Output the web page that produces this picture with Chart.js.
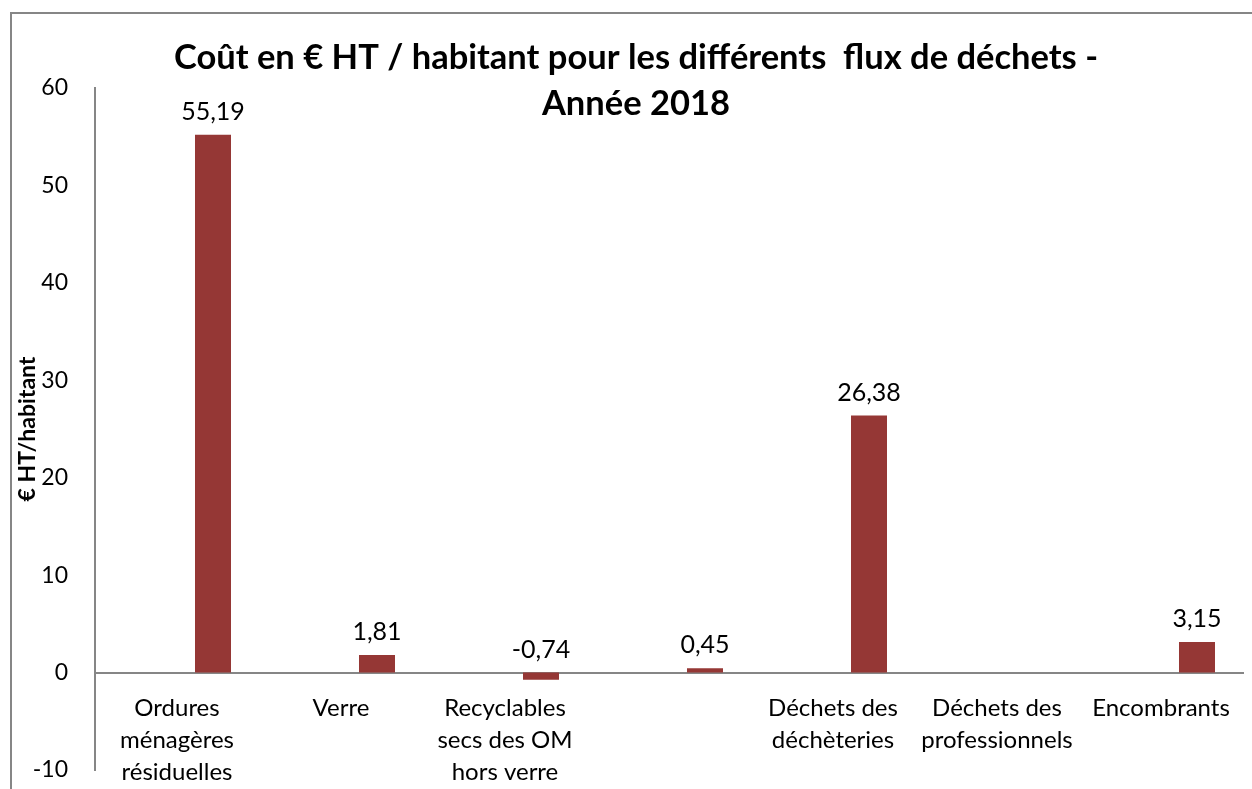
<!DOCTYPE html>
<html lang="fr">
<head>
<meta charset="utf-8">
<title>Coût en € HT / habitant</title>
<script src="https://cdn.jsdelivr.net/npm/chart.js@4/dist/chart.umd.min.js"></script>
<style>
    body { margin: 0; background: #ffffff; }
    #cadre { width: 1252px; height: 789px; }
</style>
</head>
<body>
<div id="cadre">
    <canvas id="graficoCout" width="1252" height="789"></canvas>
</div>
<script>
const categories = [
    ["Ordures", "ménagères", "résiduelles"],
    "Verre",
    ["Recyclables", "secs des OM", "hors verre"],
    "",
    ["Déchets des", "déchèteries"],
    ["Déchets des", "professionnels"],
    "Encombrants"
];
const coutParHabitant = [55.19, 1.81, -0.74, 0.45, 26.38, null, 3.15];
const serieVide = [null, null, null, null, null, null, null];
const ticksY = [-10, 0, 10, 20, 30, 40, 50, 60];

const titreLignes = ["Coût en € HT / habitant pour les différents  flux de déchets -", "Année 2018"];

const police = "Lato, 'Open Sans', sans-serif";
const couleurBarre = "#953735";
const couleurAxe = "#868686";

// cadre gris + titre superposé (comme dans Excel)
const pluginCadre = {
    id: "cadre",
    beforeDraw(chart) {
        const ctx = chart.ctx;
        ctx.save();
        ctx.strokeStyle = couleurAxe;
        ctx.lineWidth = 2;
        ctx.beginPath();
        ctx.moveTo(11, chart.height);
        ctx.lineTo(11, 13);
        ctx.lineTo(chart.width, 13);
        ctx.stroke();
        ctx.restore();
    },
    afterDraw(chart) {
        const ctx = chart.ctx;
        ctx.save();
        ctx.fillStyle = "#000000";
        ctx.font = "bold 34.5px " + police;
        ctx.textAlign = "center";
        ctx.textBaseline = "middle";
        ctx.fillText(titreLignes[0], 636, 58);
        ctx.fillText(titreLignes[1], 636, 104);
        ctx.restore();
    }
};

// étiquettes de valeurs au-dessus des barres
const pluginEtiquettes = {
    id: "etiquettes",
    afterDatasetsDraw(chart) {
        const ctx = chart.ctx;
        const meta = chart.getDatasetMeta(1);
        ctx.save();
        ctx.fillStyle = "#000000";
        ctx.font = "25px " + police;
        ctx.textAlign = "center";
        ctx.textBaseline = "middle";
        meta.data.forEach((barre, i) => {
            const valeur = coutParHabitant[i];
            if (valeur === null) return;
            const texte = valeur.toFixed(2).replace(".", ",");
            ctx.fillText(texte, barre.x, Math.min(barre.y, barre.base) - 23);
        });
        ctx.restore();
    }
};

const ctx = document.getElementById("graficoCout").getContext("2d");

new Chart(ctx, {
    type: "bar",
    data: {
        labels: categories,
        datasets: [{
            label: "",
            data: serieVide,
            backgroundColor: couleurBarre
        }, {
            label: "Coût en € HT / habitant",
            data: coutParHabitant,
            backgroundColor: couleurBarre,
            borderWidth: 0
        }]
    },
    options: {
        responsive: false,
        animation: false,
        devicePixelRatio: 1,
        categoryPercentage: 0.878,
        barPercentage: 0.5,
        layout: {
            padding: { left: 12, top: 88, right: 9, bottom: 19 }
        },
        scales: {
            x: {
                position: { y: 0 },
                afterFit: axe => {
                    axe.height = 0;
                    axe.paddingTop = 0;
                    axe.paddingBottom = 0;
                },
                grid: { display: false, drawTicks: false },
                border: { display: true, color: couleurAxe, width: 2 },
                ticks: {
                    color: "#000000",
                    font: { family: police, size: 24, lineHeight: 1.33 },
                    padding: 20,
                    autoSkip: false,
                    maxRotation: 0
                }
            },
            y: {
                min: -10,
                max: 60,
                afterBuildTicks: axe => {
                    axe.ticks = ticksY.map(v => ({ value: v }));
                },
                afterFit: axe => {
                    axe.width = 83;
                    axe.paddingTop = 0;
                    axe.paddingBottom = 0;
                },
                grid: { display: false, drawTicks: false },
                border: { display: true, color: couleurAxe, width: 2 },
                ticks: {
                    color: "#000000",
                    font: { family: police, size: 23 },
                    padding: 27,
                    callback: v => String(v)
                },
                title: {
                    display: true,
                    text: "€ HT/habitant",
                    color: "#000000",
                    font: { family: police, size: 23, weight: "bold" },
                    padding: { top: 2, bottom: 0 }
                }
            }
        },
        plugins: {
            legend: { display: false },
            title: { display: false },
            tooltip: { enabled: false }
        }
    },
    plugins: [pluginCadre, pluginEtiquettes]
});
</script>
</body>
</html>
